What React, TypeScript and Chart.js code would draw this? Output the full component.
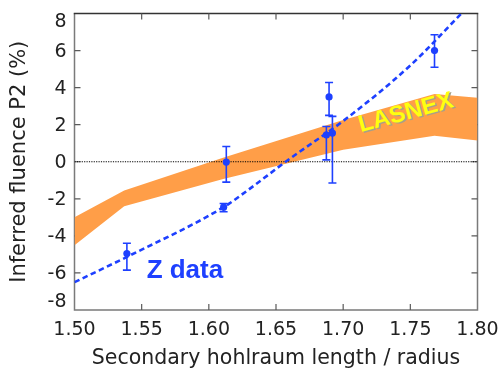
import React, { useEffect, useRef } from "react";
import { Chart, registerables } from "chart.js";

Chart.register(...registerables);

// ---- data ----
const xMin = 1.5;
const xMax = 1.8;
const yMin = -8;
const yMax = 8;
const xTicks = [1.5, 1.55, 1.6, 1.65, 1.7, 1.75, 1.8];
const yTicks = [8, 6, 4, 2, 0, -2, -4, -6, -8];

// Z data measurements
const zX = [1.539, 1.611, 1.613, 1.6895, 1.6875, 1.692, 1.768];
const zY = [-4.95, -2.45, -0.02, 3.5, 1.45, 1.55, 6.0];
const zLow = [-5.85, -2.7, -1.1, 2.5, 0.1, -1.15, 5.1];
const zHigh = [-4.4, -2.25, 0.82, 4.28, 1.9, 2.45, 6.85];

// dashed fit curve through the Z data
const fitX = [1.5, 1.54, 1.611, 1.625, 1.66, 1.7, 1.75, 1.788];
const fitY = [-6.5, -5.1, -2.45, -1.75, 0.15, 2.2, 5.2, 8.0];

// LASNEX band
const bandX = [1.5, 1.537, 1.61, 1.7, 1.768, 1.8];
const bandUpper = [-3.0, -1.55, 0.2, 2.25, 3.65, 3.45];
const bandLower = [-4.5, -2.4, -0.95, 0.65, 1.4, 1.15];

// zero reference line
const zeroX = [1.5, 1.8];
const zeroY = [0, 0];

// annotations
const lasnexLabel = "LASNEX";
const lasnexPos = { x: 1.7467, y: 2.62 };
const zLabel = "Z data";
const zLabelPos = { x: 1.5537, y: -6.29 };

const xTitle = "Secondary hohlraum length / radius";
const yTitle = "Inferred fluence P2 (%)";

const BLUE = "#1e40ff";
const ORANGE = "#ff9e48";
const TEXT = "#222222";
const FRAME = "#7a7a7a";
const FRAME_TOP = "#333333";
const TICKC = "#5a5a5a";
const TICK_LEN = 6;

// frame drawn as filled shapes before the datasets
const frame = {
  id: "frame",
  beforeDatasetsDraw(chart: any) {
    const { ctx, scales, chartArea } = chart;
    const x = scales.x;
    const y = scales.y;
    const { left, right, top, bottom } = chartArea;
    const w = 1.5;
    ctx.save();
    ctx.globalAlpha = 1;
    ctx.fillStyle = FRAME;
    ctx.beginPath();
    ctx.rect(left - w / 2, top, w, bottom - top + w / 2);
    ctx.rect(right - w / 2, top, w, bottom - top + w / 2);
    ctx.rect(left - w / 2, bottom - w / 2, right - left + w, w);
    ctx.fill();
    ctx.fillStyle = FRAME_TOP;
    ctx.beginPath();
    ctx.rect(left - w / 2, top - w / 2, right - left + w, w);
    ctx.fill();
    ctx.fillStyle = TICKC;
    ctx.beginPath();
    xTicks.forEach((v) => {
      if (v <= xMin || v >= xMax) return;
      const px = x.getPixelForValue(v);
      ctx.rect(px - 0.6, bottom - TICK_LEN, 1.2, TICK_LEN);
      ctx.rect(px - 0.6, top, 1.2, TICK_LEN);
    });
    yTicks.forEach((v) => {
      if (v <= yMin || v >= yMax) return;
      const py = y.getPixelForValue(v);
      ctx.rect(left, py - 0.6, TICK_LEN, 1.2);
      ctx.rect(right - TICK_LEN, py - 0.6, TICK_LEN, 1.2);
    });
    ctx.fill();
    ctx.restore();
  },
};

const labels = {
  id: "labels",
  afterDatasetsDraw(chart: any) {
    const { ctx, scales, chartArea } = chart;
    const x = scales.x;
    const y = scales.y;
    const { left, top, bottom } = chartArea;

    ctx.save();
    ctx.translate(x.getPixelForValue(lasnexPos.x), y.getPixelForValue(lasnexPos.y));
    ctx.rotate((-15.2 * Math.PI) / 180);
    ctx.font = 'bold 24px "Liberation Sans"';
    ctx.textAlign = "center";
    ctx.textBaseline = "middle";
    ctx.fillStyle = "#a8a088";
    ctx.fillText(lasnexLabel, 1.5, 1.5);
    ctx.fillStyle = "#ffff10";
    ctx.fillText(lasnexLabel, 0, 0);
    ctx.restore();

    ctx.save();
    ctx.font = 'bold 26px "Liberation Sans"';
    ctx.textAlign = "left";
    ctx.textBaseline = "alphabetic";
    ctx.fillStyle = BLUE;
    ctx.fillText(zLabel, x.getPixelForValue(zLabelPos.x), y.getPixelForValue(zLabelPos.y));
    ctx.restore();

    ctx.save();
    ctx.font = '19px "DejaVu Sans"';
    ctx.fillStyle = TEXT;
    ctx.textAlign = "right";
    ctx.textBaseline = "middle";
    yTicks.forEach((v) => {
      let py = y.getPixelForValue(v);
      py = Math.min(Math.max(py, top + 8), bottom - 9);
      ctx.fillText(String(v), left - 8, py + 1);
    });
    ctx.restore();
  },
};

const noPad = (s: any) => {
  s.paddingLeft = 0;
  s.paddingRight = 0;
  s.paddingTop = 0;
  s.paddingBottom = 0;
};

export default function App() {
  const ref = useRef<HTMLCanvasElement | null>(null);

  useEffect(() => {
    if (!ref.current) return;
    const pts = (xs: number[], ys: number[]) => xs.map((v, i) => ({ x: v, y: ys[i] }));

    const errorSets = zX.map((xv, i) => ({
      data: [
        { x: xv, y: zLow[i] },
        { x: xv, y: zHigh[i] },
      ],
      borderColor: BLUE,
      borderWidth: 1.6,
      pointStyle: "line",
      pointRadius: 4,
      pointBorderWidth: 1.6,
      pointBorderColor: BLUE,
      pointBackgroundColor: BLUE,
      fill: false,
      order: 2,
    }));

    const chart = new Chart(ref.current, {
      type: "line",
      data: {
        datasets: [
          {
            data: pts(bandX, bandLower),
            borderWidth: 0,
            borderColor: ORANGE,
            pointRadius: 0,
            fill: false,
            order: 10,
          },
          {
            data: pts(bandX, bandUpper),
            borderWidth: 0,
            borderColor: ORANGE,
            backgroundColor: ORANGE,
            pointRadius: 0,
            fill: "-1",
            order: 10,
          },
          {
            data: pts(zeroX, zeroY),
            borderColor: "#000000",
            borderWidth: 1,
            borderDash: [1.2, 1.2],
            pointRadius: 0,
            fill: false,
            order: 5,
          },
          {
            data: pts(fitX, fitY),
            borderColor: BLUE,
            borderWidth: 2.6,
            borderDash: [5.5, 3.5],
            cubicInterpolationMode: "monotone",
            pointRadius: 0,
            fill: false,
            order: 3,
          },
          ...errorSets,
          {
            data: pts(zX, zY),
            showLine: false,
            pointRadius: 3.6,
            pointBackgroundColor: BLUE,
            pointBorderColor: BLUE,
            pointBorderWidth: 0,
            order: 1,
          },
        ] as any,
      },
      options: {
        animation: false,
        responsive: false,
        maintainAspectRatio: false,
        events: [],
        layout: { padding: { top: 13.5, right: 23.5, left: 0, bottom: 0 } },
        plugins: {
          legend: { display: false },
          tooltip: { enabled: false },
        },
        scales: {
          x: {
            type: "linear",
            position: "bottom",
            min: xMin,
            max: xMax,
            afterBuildTicks: (s: any) => {
              s.ticks = xTicks.map((v) => ({ value: v }));
            },
            afterFit: (s: any) => {
              s.height = 61;
              noPad(s);
            },
            ticks: {
              callback: (v: any) => Number(v).toFixed(2),
              font: { family: "DejaVu Sans", size: 19 },
              color: TEXT,
              padding: 9,
              maxRotation: 0,
              autoSkip: false,
            },
            grid: { display: false, drawTicks: false },
            border: { display: false },
            title: {
              display: true,
              text: xTitle,
              font: { family: "DejaVu Sans", size: 20.5 },
              color: TEXT,
              padding: { top: 0, bottom: 0 },
            },
          },
          y: {
            type: "linear",
            position: "left",
            min: yMin,
            max: yMax,
            afterBuildTicks: (s: any) => {
              s.ticks = yTicks.map((v) => ({ value: v }));
            },
            afterFit: (s: any) => {
              s.width = 74.5;
              noPad(s);
            },
            ticks: { display: false },
            grid: { display: false, drawTicks: false },
            border: { display: false },
            title: {
              display: true,
              text: yTitle,
              font: { family: "DejaVu Sans", size: 21 },
              color: TEXT,
              padding: { top: 7, bottom: 0 },
            },
          },
        },
      },
      plugins: [frame, labels],
    });
    return () => chart.destroy();
  }, []);

  return (
    <div style={{ position: "fixed", left: 0, top: 0, width: 501, height: 371, background: "#fff" }}>
      <canvas ref={ref} width={501} height={371} />
    </div>
  );
}
